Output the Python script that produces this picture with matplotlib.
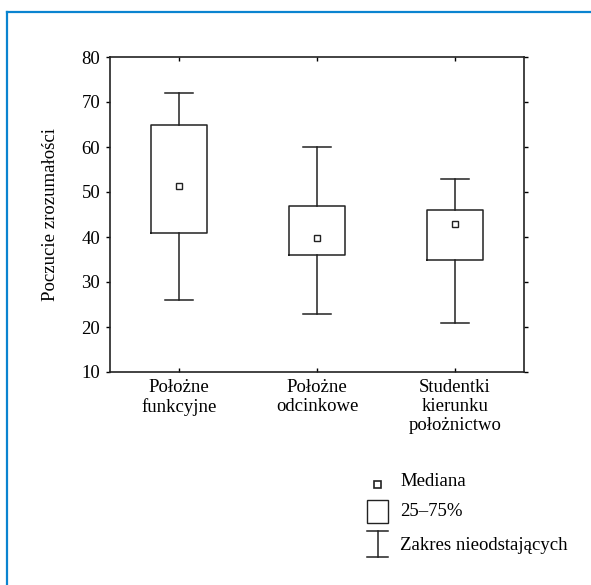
import matplotlib
matplotlib.use('Agg')
import matplotlib.pyplot as plt
from matplotlib.lines import Line2D
from matplotlib.patches import Rectangle

plt.rcParams['font.family'] = ['Liberation Serif', 'DejaVu Serif']

categories = ['Położne\nfunkcyjne', 'Położne\nodcinkowe', 'Studentki\nkierunku\npołożnictwo']
medians = [51.3, 39.8, 42.9]
q1 = [41, 36, 35]
q3 = [65, 47, 46]
whisk_lo = [26, 23, 21]
whisk_hi = [72, 60, 53]

W, H = 591, 585
fs = 13.5
fig = plt.figure(figsize=(W / 100, H / 100), dpi=100)

# blue frame (top and left only visible)
fig.add_artist(Line2D([7 / W, 7 / W], [0, 1 - 12 / H], transform=fig.transFigure,
                      color='#0a84d0', lw=1.6))
fig.add_artist(Line2D([7 / W, 1], [1 - 12 / H, 1 - 12 / H], transform=fig.transFigure,
                      color='#0a84d0', lw=1.6))

ax = fig.add_axes([110 / W, 1 - 372 / H, 414 / W, 315 / H])

stats = []
for i in range(len(categories)):
    stats.append(dict(med=medians[i], q1=q1[i], q3=q3[i],
                      whislo=whisk_lo[i], whishi=whisk_hi[i], fliers=[]))

ax.bxp(stats, positions=range(len(categories)), widths=0.4, showfliers=False,
       boxprops=dict(color='#222222', lw=1.1),
       whiskerprops=dict(color='#222222', lw=1.1),
       capprops=dict(color='#222222', lw=1.1),
       medianprops=dict(lw=0), capwidths=0.2)
ax.plot(range(len(categories)), medians, 's', ms=4, mfc='white', mec='#222222',
        mew=1.0, ls='none')

ax.set_xlim(-0.5, 2.5)
ax.set_ylim(10, 80)
ax.set_yticks(range(10, 81, 10))
ax.set_xticks(range(len(categories)))
ax.set_xticklabels(categories, fontsize=fs, linespacing=1.15)
ax.tick_params(axis='y', labelsize=fs, direction='out', length=3, width=1, pad=4)
ax.tick_params(axis='x', direction='in', length=3, width=1, pad=5)
ax.tick_params(top=True, right=True)
for s in ax.spines.values():
    s.set_linewidth(1.2)
    s.set_color('#222222')
ax.set_ylabel('Poczucie zrozumałości', fontsize=fs, labelpad=16)

# legend drawn in figure pixels
def fx(x):
    return x / W

def fy(y):
    return 1 - y / H

k = '#222222'
fig.add_artist(Rectangle((fx(374), fy(488)), 7 / W, 7 / H, transform=fig.transFigure,
                         fill=False, ec=k, lw=1.2))
fig.text(fx(400), fy(481), 'Mediana', fontsize=fs, va='center')
fig.add_artist(Rectangle((fx(367), fy(523)), 21 / W, 23 / H, transform=fig.transFigure,
                         fill=False, ec=k, lw=1.0))
fig.text(fx(400), fy(512), '25–75%', fontsize=fs, va='center')
fig.add_artist(Line2D([fx(367), fx(388)], [fy(531), fy(531)], transform=fig.transFigure, color=k, lw=1.1))
fig.add_artist(Line2D([fx(367), fx(388)], [fy(557), fy(557)], transform=fig.transFigure, color=k, lw=1.1))
fig.add_artist(Line2D([fx(377.5), fx(377.5)], [fy(531), fy(557)], transform=fig.transFigure, color=k, lw=1.1))
fig.text(fx(400), fy(545), 'Zakres nieodstających', fontsize=fs, va='center')

fig.savefig('out.png', dpi=100)
